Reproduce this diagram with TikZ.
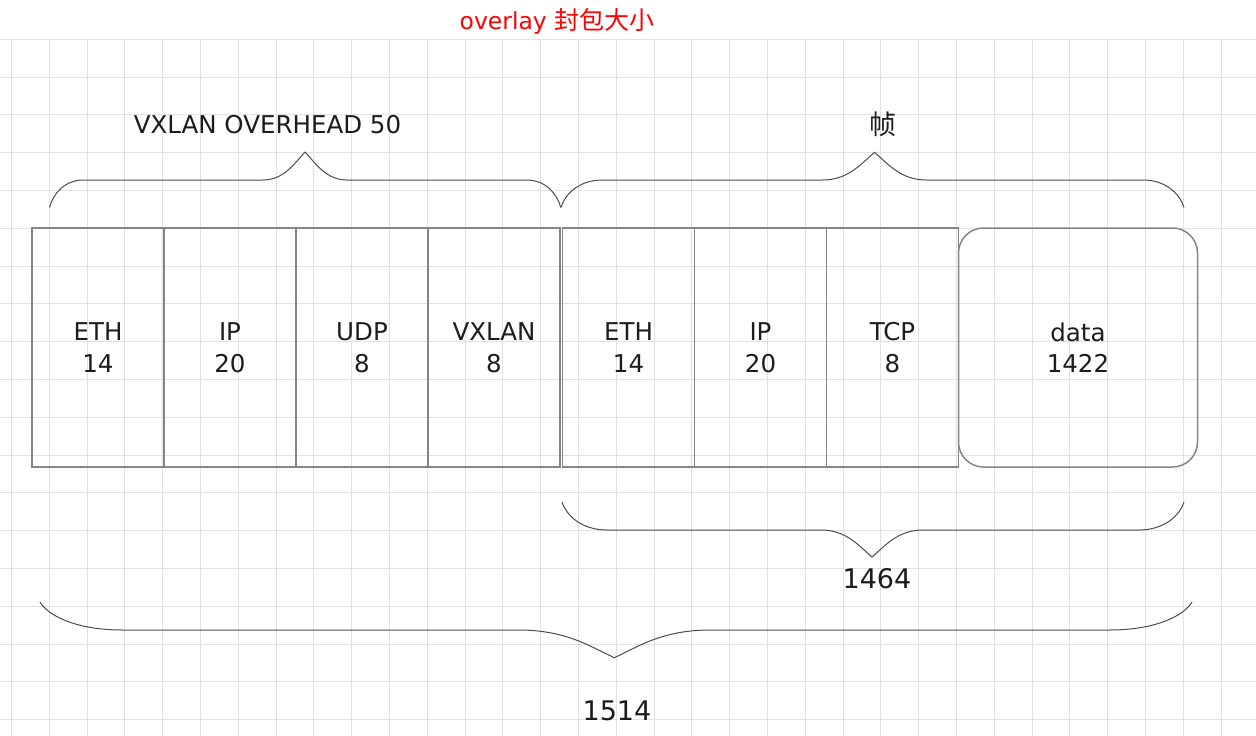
\documentclass[tikz,border=0pt]{standalone}
\usepackage{fontspec}
\setmainfont{DejaVu Sans}
\newfontfamily\cjk{Noto Sans CJK SC}
\usetikzlibrary{positioning}
\definecolor{gridc}{HTML}{E2E2E2}
\definecolor{boxc}{HTML}{858585}
\definecolor{bracec}{HTML}{4D4D4D}
\definecolor{txtc}{HTML}{1C1C1C}
\begin{document}
\begin{tikzpicture}[x=1pt,y=-1pt,
	field/.style={draw=boxc,line width=1.5pt,minimum width=132pt,minimum height=239pt,inner sep=0pt,outer sep=0pt,
		align=center,text=txtc,font=\fontsize{24.5}{31.5}\selectfont},
	lbl/.style={text=txtc,inner sep=0pt,font=\fontsize{24.5}{30}\selectfont},
	bigl/.style={lbl,font=\fontsize{27}{32}\selectfont}]
	\fill[white] (0,0) rectangle (1256,736);
	\useasboundingbox (0,0) rectangle (1256,736);
	% grid
	\foreach \g in {0,...,32}{\draw[gridc,line width=1pt] ({11.5+37.8*\g},39.3)--({11.5+37.8*\g},736);}
	\foreach \g in {0,...,18}{\draw[gridc,line width=1pt] (0,{39.3+37.8*\g})--(1256,{39.3+37.8*\g});}
	% fields
	\node[field] (eth1) at (98,347.5) {ETH\\14};
	\node[field,right=0pt of eth1] (ip1) {IP\\20};
	\node[field,right=0pt of ip1] (udp) {UDP\\8};
	\node[field,right=0pt of udp] (vxlan) {VXLAN\\8};
	\node[field,right=2.5pt of vxlan] (eth2) {ETH\\14};
	\node[field,right=0pt of eth2] (ip2) {IP\\20};
	\node[field,right=0pt of ip2] (tcp) {TCP\\8};
	\node[field,right=0pt of tcp,minimum width=239pt,rounded corners=25pt] (data) {data\\1422};
	% braces: ends, height, tip, curve widths
	\foreach \xa/\xb/\ye/\yh/\xt/\yt/\de/\dt in {49.5/560.7/207.5/180/305/152/34/42,
		561/1184/207.5/180/874.5/152.3/41/52,562/1184/502/530/872/557/45/51,40/1192/602/630/614.3/657.7/82/96}{
		\draw[bracec,line width=1pt] (\xa,\ye) .. controls ({\xa+0.1*\de},{(\ye+\yh)/2}) and ({\xa+0.45*\de},\yh) .. ({\xa+\de},\yh)
			--({\xt-\dt},\yh) .. controls ({\xt-0.5*\dt},\yh) and ({\xt-0.25*\dt},{\yh+0.6*(\yt-\yh)}) .. (\xt,\yt)
			.. controls ({\xt+0.25*\dt},{\yh+0.6*(\yt-\yh)}) and ({\xt+0.5*\dt},\yh) .. ({\xt+\dt},\yh)
			--({\xb-\de},\yh) .. controls ({\xb-0.45*\de},\yh) and ({\xb-0.1*\de},{(\ye+\yh)/2}) .. (\xb,\ye);
	}
	% labels
	\node[anchor=base,inner sep=0pt,text=red,font=\fontsize{23.5}{28}\selectfont] (title) at (557,29.5)
		{overlay {\cjk\fontsize{25}{28}\selectfont 封包大小}};
	\node[lbl] (overhead) at (267.5,125) {VXLAN OVERHEAD 50};
	\node[bigl] (frame) at (882.5,124.5) {\cjk 帧};
	\node[bigl] (len1464) at (877,578.7) {1464};
	\node[bigl] (len1514) at (617,710.5) {1514};
\end{tikzpicture}
\end{document}
